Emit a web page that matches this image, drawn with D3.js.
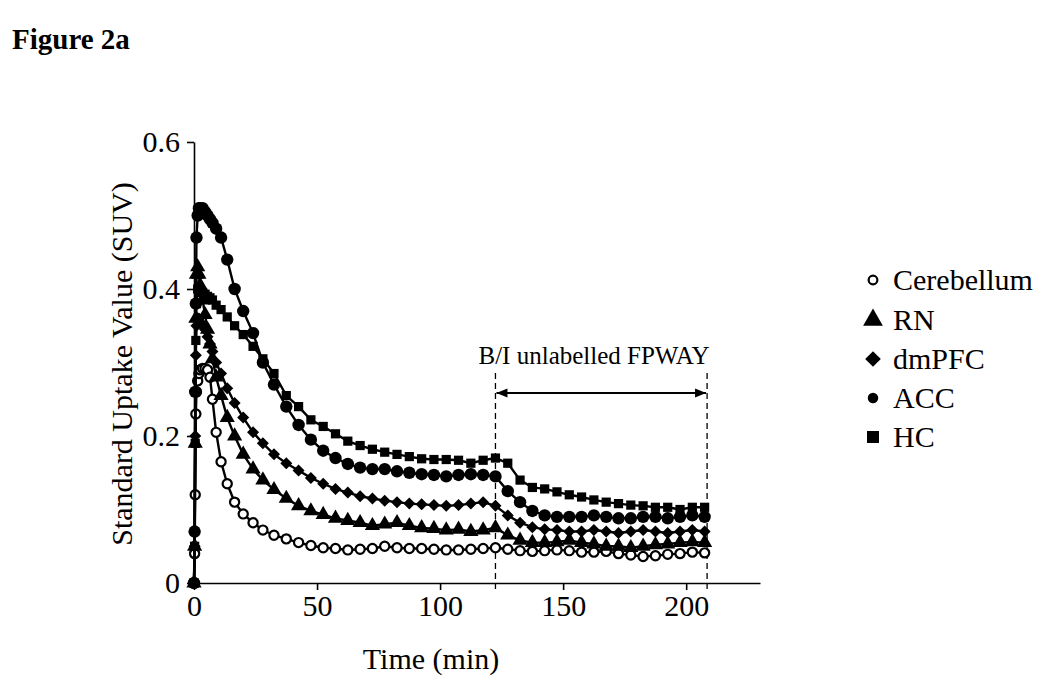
<!DOCTYPE html>
<html>
<head>
<meta charset="utf-8">
<script src="https://cdn.jsdelivr.net/npm/d3@7"></script>
<style>
  html, body { margin: 0; padding: 0; background: #fff; }
  svg { display: block; }
  text { font-family: "Liberation Serif", "Times New Roman", serif; fill: #000; }
</style>
</head>
<body>
<svg id="chart" width="1050" height="692"></svg>
<script>
// ---- data ----
const times = [0, 0.25, 0.5, 0.75, 1, 1.5, 2, 2.5, 3.5, 4.5, 5.5, 6.5, 7.5, 9, 11, 13.5, 16.5, 20, 24, 28,
  32.5, 37.5, 42.5, 47.5, 52.5, 57.5, 62.5, 67.5, 72.5, 77.5, 82.5, 87.5, 92.5, 97.5, 102.5, 107.5, 112.5, 117.5,
  122.5, 127.5, 132.5, 137.5, 142.5, 147.5, 152.5, 157.5, 162.5, 167.5, 172.5, 177.5, 182.5, 187.5, 192.5, 197.5, 202.5, 207.5];

const cerebellum = [0, 0.04, 0.12, 0.23, 0.26, 0.275, 0.285, 0.29, 0.292, 0.292, 0.29, 0.28, 0.25, 0.205, 0.165, 0.135, 0.11, 0.094, 0.082, 0.072,
  0.065, 0.06, 0.055, 0.051, 0.048, 0.047, 0.045, 0.046, 0.047, 0.05, 0.048, 0.047, 0.047, 0.046, 0.045, 0.045, 0.046, 0.047,
  0.048, 0.046, 0.044, 0.043, 0.044, 0.045, 0.044, 0.042, 0.042, 0.043, 0.04, 0.038, 0.036, 0.037, 0.039, 0.04, 0.042, 0.041];

const rn = [0, 0.05, 0.19, 0.36, 0.42, 0.43, 0.42, 0.405, 0.385, 0.365, 0.345, 0.325, 0.305, 0.28, 0.255, 0.225, 0.2, 0.175, 0.155, 0.14,
  0.127, 0.115, 0.105, 0.098, 0.093, 0.088, 0.085, 0.082, 0.078, 0.08, 0.082, 0.078, 0.075, 0.074, 0.072, 0.073, 0.07, 0.072,
  0.075, 0.065, 0.058, 0.055, 0.055, 0.056, 0.058, 0.055, 0.053, 0.05, 0.05, 0.048, 0.05, 0.052, 0.053, 0.055, 0.056, 0.055];

const dmpfc = [0, 0.05, 0.2, 0.31, 0.35, 0.36, 0.36, 0.355, 0.35, 0.345, 0.335, 0.325, 0.315, 0.3, 0.285, 0.265, 0.245, 0.225, 0.205, 0.19,
  0.175, 0.163, 0.153, 0.143, 0.135, 0.128, 0.123, 0.118, 0.115, 0.112, 0.11, 0.108, 0.107, 0.106, 0.105, 0.106, 0.108, 0.11,
  0.105, 0.092, 0.082, 0.076, 0.073, 0.072, 0.07, 0.07, 0.072, 0.07, 0.068, 0.07, 0.072, 0.07, 0.068, 0.07, 0.072, 0.07];

const acc = [0, 0.07, 0.26, 0.38, 0.47, 0.5, 0.51, 0.51, 0.51, 0.505, 0.5, 0.495, 0.49, 0.482, 0.47, 0.44, 0.4, 0.37, 0.34, 0.3,
  0.27, 0.24, 0.215, 0.195, 0.18, 0.17, 0.162, 0.157, 0.155, 0.155, 0.152, 0.15, 0.148, 0.147, 0.145, 0.147, 0.148, 0.147,
  0.145, 0.125, 0.11, 0.098, 0.092, 0.09, 0.09, 0.09, 0.092, 0.09, 0.088, 0.088, 0.09, 0.09, 0.088, 0.09, 0.092, 0.09];

const hc = [0, 0.05, 0.19, 0.33, 0.38, 0.4, 0.4, 0.398, 0.395, 0.393, 0.39, 0.388, 0.385, 0.378, 0.372, 0.362, 0.35, 0.338, 0.322, 0.305,
  0.285, 0.255, 0.24, 0.222, 0.213, 0.203, 0.193, 0.187, 0.182, 0.178, 0.175, 0.172, 0.169, 0.168, 0.168, 0.167, 0.163, 0.167,
  0.17, 0.163, 0.14, 0.13, 0.128, 0.124, 0.12, 0.117, 0.113, 0.11, 0.108, 0.106, 0.105, 0.103, 0.103, 0.1, 0.103, 0.103];

const seriesNames = ["Cerebellum", "RN", "dmPFC", "ACC", "HC"];
const seriesValues = [cerebellum, rn, dmpfc, acc, hc];
const seriesShapes = ["openCircle", "triangle", "diamond", "circle", "square"];

const xTicks = [0, 50, 100, 150, 200];
const yTicks = [0, 0.2, 0.4, 0.6];
const injectionWindow = [122.5, 208.5];
const annotationLabel = "B/I unlabelled FPWAY";
const xTitle = "Time (min)";
const yTitle = "Standard Uptake Value (SUV)";
const figTitle = "Figure 2a";

// ---- layout ----
const svg = d3.select("#chart");
const x = d3.scaleLinear().domain([0, 230]).range([194, 760]);
const y = d3.scaleLinear().domain([0, 0.6]).range([583, 142]);
const FS = 30;

svg.append("text").attr("x", 12).attr("y", 49)
  .style("font-size", "29px").style("font-weight", "bold").text(figTitle);

// axes
const xAxis = svg.append("g").attr("transform", `translate(0,${y(0)})`)
  .call(d3.axisBottom(x).tickValues(xTicks).tickSizeInner(7).tickSizeOuter(0).tickPadding(5).tickFormat(d3.format("d")));
const yAxis = svg.append("g").attr("transform", `translate(${x(0)},0)`)
  .call(d3.axisLeft(y).tickValues(yTicks).tickSizeInner(7).tickSizeOuter(0).tickPadding(7)
    .tickFormat(d => d === 0 ? "0" : d3.format(".1f")(d)));
[xAxis, yAxis].forEach(g => {
  g.selectAll("path, line").attr("stroke", "#000").attr("stroke-width", 1.6);
  g.selectAll("text").style("font-family", '"Liberation Serif", serif').style("font-size", FS + "px").attr("fill", "#000");
});

svg.append("text").attr("x", 431).attr("y", 669).attr("text-anchor", "middle")
  .style("font-size", FS + "px").text(xTitle);
svg.append("text").attr("transform", `translate(132,364) rotate(-90)`)
  .attr("text-anchor", "middle").style("font-size", FS + "px").text(yTitle);

// annotation
injectionWindow.forEach(t => {
  svg.append("line").attr("x1", x(t)).attr("x2", x(t)).attr("y1", 373).attr("y2", y(0) + 9)
    .attr("stroke", "#000").attr("stroke-width", 1.3).attr("stroke-dasharray", "6,4");
});
const defs = svg.append("defs");
defs.append("marker").attr("id", "ah").attr("viewBox", "0 0 10 10").attr("refX", 10).attr("refY", 5)
  .attr("markerWidth", 12).attr("markerHeight", 11).attr("markerUnits", "userSpaceOnUse").attr("orient", "auto-start-reverse")
  .append("path").attr("d", "M0,1 L10,5 L0,9 Z").attr("fill", "#000");
svg.append("line").attr("x1", x(injectionWindow[0]) + 1).attr("x2", x(injectionWindow[1]) - 1)
  .attr("y1", 393).attr("y2", 393).attr("stroke", "#000").attr("stroke-width", 1.8)
  .attr("marker-start", "url(#ah)").attr("marker-end", "url(#ah)");
svg.append("text").attr("x", 594).attr("y", 364)
  .attr("text-anchor", "middle").style("font-size", "25px").text(annotationLabel);

// symbols
function drawSymbol(g, shape, scale) {
  scale = scale || 1;
  if (shape === "openCircle") {
    g.append("circle").attr("r", 4.6 * scale).attr("fill", "#fff").attr("stroke", "#000").attr("stroke-width", 2.2);
  } else if (shape === "circle") {
    g.append("circle").attr("r", 6.2 * scale).attr("fill", "#000");
  } else if (shape === "triangle") {
    g.append("path").attr("d", d3.symbol().type(d3.symbolTriangle).size(100 * scale * scale)()).attr("fill", "#000");
  } else if (shape === "diamond") {
    g.append("path").attr("d", d3.symbol().type(d3.symbolSquare).size(72 * scale * scale)())
      .attr("transform", "rotate(45)").attr("fill", "#000");
  } else if (shape === "square") {
    g.append("path").attr("d", d3.symbol().type(d3.symbolSquare).size(85 * scale * scale)()).attr("fill", "#000");
  }
}

const line = d3.line().x((d, i) => x(times[i])).y(d => y(d));
seriesValues.forEach((vals, si) => {
  const g = svg.append("g");
  g.append("path").datum(vals).attr("d", line).attr("fill", "none").attr("stroke", "#000").attr("stroke-width", 2.4);
  vals.forEach((v, i) => {
    const s = g.append("g").attr("transform", `translate(${x(times[i])},${y(v)})`);
    drawSymbol(s, seriesShapes[si]);
  });
});

// legend
const legendY = [280, 320, 359, 398, 437];
seriesNames.forEach((name, i) => {
  const s = svg.append("g").attr("transform", `translate(873,${legendY[i]})`);
  drawSymbol(s, seriesShapes[i], i === 0 ? 0.95 : (i === 3 ? 0.85 : 1.3));
  svg.append("text").attr("x", 893).attr("y", legendY[i] + 10).style("font-size", FS + "px").text(name);
});
</script>
</body>
</html>
